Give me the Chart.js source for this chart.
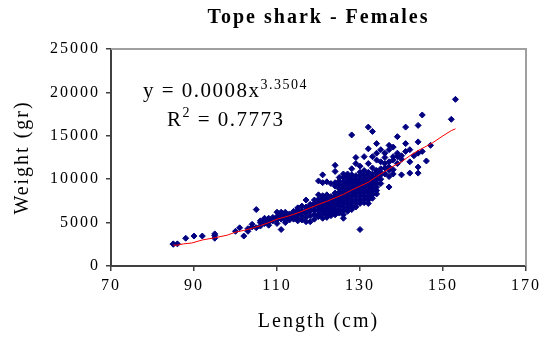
<!doctype html>
<html lang="en">
<head>
<meta charset="utf-8">
<title>Tope shark - Females</title>
<style>
  * { margin: 0; padding: 0; }
  body { background: #fff; }
  .chartBox { width: 551px; height: 338px; }
</style>
</head>
<body>
<div class="chartBox"><canvas id="myChart"></canvas></div>
<script src="https://cdn.jsdelivr.net/npm/chart.js/dist/chart.umd.min.js"></script>
<script>
// lengths (cm) and the weights (gr) read at each length
const lengthCm = [85, 86, 88, 90, 92, 95, 100, 101, 102, 103, 104, 105, 106, 107, 108, 109,
  110, 111, 112, 113, 114, 115, 116, 117, 118, 119, 120, 121, 122, 123, 124, 125, 126, 127,
  128, 129, 130, 131, 132, 133, 134, 135, 136, 137, 138, 139, 140, 141, 142, 143, 144, 145,
  146, 147, 152, 153];
const weightGr = [
  [2550, 2500], [2550], [3200], [3450], [3450], [3700, 3500, 3200], [4000], [4400], [3450],
  [4000, 4300], [4800, 4500], [6500, 4400], [4600, 5200, 5000], [5300, 5500, 4900],
  [4700, 5300, 5500, 5000], [5600, 5200, 5400],
  [6200, 5300, 5700, 4900, 5500], [4200, 6200, 5700, 5400, 5900], [6200, 5700, 5300, 5000, 5900],
  [5300, 5600, 6000, 5800], [5700, 6100, 5400, 6300], [5500, 6400, 6000, 5200, 6700],
  [5300, 6400, 6900, 5800, 6200], [7600, 6100, 6500, 5100, 6800, 5600],
  [6600, 5100, 7100, 6300, 6900, 5800], [7200, 7600, 6400, 6900, 5900, 5400],
  [9800, 8200, 6400, 7300, 7000, 6000, 6700, 7700, 5700],
  [10500, 9600, 8100, 7500, 7100, 6700, 6300, 6000, 5500, 7800],
  [9700, 7900, 7600, 7300, 6900, 6600, 6200, 5900, 5600, 8200, 6400],
  [9500, 8000, 7700, 7400, 7000, 6600, 6300, 6000, 5800, 7200, 6800],
  [11600, 10900, 9600, 9200, 8100, 7700, 7300, 6900, 6500, 6200, 5900, 8400, 7100],
  [10200, 9800, 9400, 8900, 8500, 8100, 7700, 7300, 6900, 6500, 6100, 7900, 7500],
  [10600, 10200, 9700, 9300, 8800, 8400, 8000, 7600, 7200, 6800, 6400, 5500, 5900, 9000, 7800],
  [10600, 10300, 9900, 9500, 9100, 8700, 8300, 7900, 7500, 7100, 6700, 6300, 8500, 9700],
  [15100, 11200, 10500, 10100, 9700, 9300, 8900, 8500, 8100, 7700, 7300, 6900, 6500, 8700, 9900],
  [12500, 11800, 10400, 10000, 9600, 9200, 8800, 8400, 8000, 7600, 7200, 6800, 9400, 8600],
  [11500, 10800, 10400, 10000, 9600, 9200, 8800, 8400, 8000, 7600, 7200, 4200, 9000, 9800],
  [12600, 11000, 10500, 10100, 9700, 9300, 8900, 8500, 8100, 7700, 7300, 9500, 8700],
  [16000, 13500, 11800, 10800, 10400, 10000, 9600, 9200, 8800, 8400, 8000, 7600, 7200, 9000],
  [15500, 12600, 11300, 10600, 10200, 9800, 9400, 9000, 8600, 8200, 7800, 9600],
  [14100, 13000, 12200, 10800, 10300, 9900, 9500, 9100, 8700, 8300, 11000],
  [13400, 12000, 11200, 10500, 10000, 9500, 10800], [13000, 12500, 11300, 10600, 11800],
  [13900, 11400, 10300, 9100, 12000, 11000, 13400], [13700, 12600, 11100, 10600, 12200],
  [14900, 11800, 12600, 13000], [12700, 10500, 12300], [16000, 14100, 13200],
  [10700, 12000, 13400], [12700], [16200, 14300, 11400, 10700, 13000], [17400, 13200],
  [12100], [13900], [16900], [19200]
];

// red power trend line
const fitLengthCm = [85, 86, 87.5, 89.5, 92, 95, 98, 100, 102, 104, 106, 108, 110, 112, 114,
  116, 118, 120, 122, 124, 126, 128, 130, 132, 134, 136, 138, 140, 142, 144, 146, 147.5, 150, 152, 153];
const fitWeightGr = [2400, 2400, 2550, 2650, 3000, 3250, 3550, 3900, 4100, 4350, 4650, 5000, 5400,
  5650, 5950, 6300, 6700, 7100, 7450, 7850, 8250, 8750, 9200, 9650, 10300, 10900, 11500, 12000,
  12700, 13300, 13800, 14200, 15000, 15600, 15800];

const xTicks = [70, 90, 110, 130, 150, 170];
const yTicks = [0, 5000, 10000, 15000, 20000, 25000];

const serif = '"Liberation Serif", "Times New Roman", serif';

const points = lengthCm.flatMap((len, i) => weightGr[i].map(w => ({ x: len, y: w })));
const fitLine = fitLengthCm.map((len, i) => ({ x: len, y: fitWeightGr[i] }));

// Excel-like wide text
const spacing = {
  id: 'spacing',
  beforeDraw: (chart) => { chart.ctx.letterSpacing = '2px'; }
};

// gray top and right frame of the plot area
const frame = {
  id: 'frame',
  afterDraw: (chart) => {
    const { ctx, chartArea: { left, top, right, bottom } } = chart;
    ctx.save();
    ctx.strokeStyle = '#a0a0a0';
    ctx.lineWidth = 2;
    ctx.beginPath();
    ctx.moveTo(left, top);
    ctx.lineTo(right, top);
    ctx.lineTo(right, bottom);
    ctx.stroke();
    ctx.restore();
  }
};

// fitted equation text
const equation = {
  id: 'equation',
  afterDraw: (chart) => {
    const { ctx } = chart;
    ctx.save();
    ctx.fillStyle = '#000';
    ctx.textAlign = 'left';
    ctx.textBaseline = 'alphabetic';
    ctx.letterSpacing = '1.5px';
    ctx.font = '21px ' + serif;
    const t = 'y = 0.0008x';
    ctx.fillText(t, 143, 97);
    let w = ctx.measureText(t).width;
    ctx.font = '14px ' + serif;
    ctx.fillText('3.3504', 143 + w, 89);

    ctx.font = '21px ' + serif;
    ctx.fillText('R', 167, 126);
    w = ctx.measureText('R').width;
    ctx.font = '14px ' + serif;
    ctx.fillText('2', 167 + w, 117);
    const w2 = ctx.measureText('2').width;
    ctx.font = '21px ' + serif;
    ctx.fillText(' = 0.7773', 167 + w + w2, 126);
    ctx.restore();
  }
};

const config = {
  type: 'scatter',
  data: {
    datasets: [
      {
        type: 'line',
        label: 'Power fit',
        data: fitLine,
        borderColor: '#ff0000',
        borderWidth: 1,
        pointRadius: 0,
        fill: false,
        tension: 0,
        order: 0
      },
      {
        label: 'Females',
        data: points,
        backgroundColor: '#000080',
        borderColor: '#000080',
        borderWidth: 1,
        pointStyle: 'rectRot',
        pointRadius: 3,
        order: 1
      }
    ]
  },
  options: {
    responsive: true,
    maintainAspectRatio: false,
    animation: false,
    layout: { padding: { left: 0, right: 25, top: 0, bottom: 0 } },
    scales: {
      x: {
        type: 'linear',
        min: xTicks[0],
        max: xTicks[xTicks.length - 1],
        afterBuildTicks: (s) => { s.ticks = xTicks.map(v => ({ value: v })); },
        afterFit: (s) => { s.height = 72; },
        grid: { drawOnChartArea: false, drawTicks: true, tickLength: 5, color: '#404040', lineWidth: 1.5 },
        border: { display: true, color: '#404040', width: 2 },
        ticks: {
          color: '#000',
          font: { family: serif, size: 16 },
          padding: 5,
          maxRotation: 0,
          autoSkip: false,
          callback: (v) => String(v)
        },
        title: {
          display: true,
          text: 'Length (cm)',
          color: '#000',
          font: { family: serif, size: 20 },
          padding: { top: 0, bottom: 4 }
        }
      },
      y: {
        min: yTicks[0],
        max: yTicks[yTicks.length - 1],
        afterBuildTicks: (s) => { s.ticks = yTicks.map(v => ({ value: v })); },
        afterFit: (s) => { s.width = 111; },
        grid: { drawOnChartArea: false, drawTicks: true, tickLength: 5, color: '#404040', lineWidth: 1.5 },
        border: { display: true, color: '#404040', width: 2 },
        ticks: {
          color: '#000',
          font: { family: serif, size: 16 },
          padding: 6,
          callback: (v) => String(v)
        },
        title: {
          display: true,
          text: 'Weight (gr)',
          color: '#000',
          font: { family: serif, size: 20 },
          padding: { top: 11, bottom: 0 }
        }
      }
    },
    plugins: {
      legend: { display: false },
      tooltip: { enabled: false },
      title: {
        display: true,
        fullSize: false,
        text: 'Tope shark - Females',
        color: '#000',
        font: { family: serif, size: 20, weight: 'bold' },
        padding: { top: 6, bottom: 19 }
      }
    }
  },
  plugins: [spacing, frame, equation]
};

const myChart = new Chart(document.getElementById('myChart'), config);
</script>
</body>
</html>
